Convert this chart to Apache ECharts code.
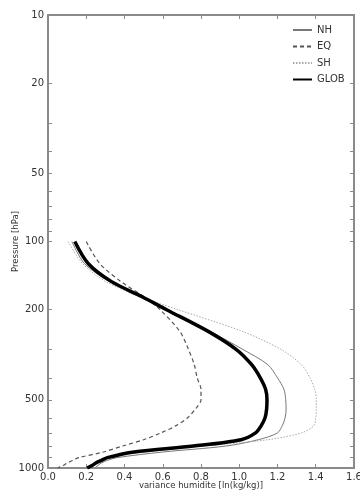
<!DOCTYPE html>
<html><head><meta charset="utf-8">
<script src="https://cdn.jsdelivr.net/npm/echarts@6/dist/echarts.min.js"></script>
<style>html,body{margin:0;padding:0;background:#fff}#c{width:360px;height:491px}</style>
</head><body><div id="c"></div>
<script>
const pressure = [100,125,150,175,200,250,300,350,400,450,500,550,600,650,700,750,800,850,900,925,950,975,1000];
const nh   = [0.125,0.19,0.32,0.48,0.62,0.85,1.02,1.15,1.20,1.234,1.243,1.245,1.24,1.225,1.20,1.10,0.93,0.60,0.36,0.31,0.28,0.26,0.245];
const eq   = [0.20,0.27,0.38,0.50,0.586,0.69,0.735,0.765,0.78,0.80,0.80,0.77,0.73,0.67,0.59,0.50,0.39,0.29,0.16,0.13,0.10,0.08,0.05];
const sh   = [0.105,0.18,0.30,0.48,0.68,1.02,1.22,1.325,1.37,1.395,1.403,1.403,1.40,1.39,1.325,1.15,0.82,0.50,0.33,0.29,0.27,0.26,0.25];
const glob = [0.14,0.21,0.33,0.49,0.62,0.84,0.985,1.065,1.11,1.138,1.145,1.143,1.135,1.115,1.085,1.01,0.76,0.45,0.31,0.28,0.25,0.23,0.205];
const yLabels = [10,20,50,100,200,500,1000];
const yTicks = [10,20,30,40,50,60,70,80,90,100,200,300,400,500,600,700,800,900,1000];

const pairs = v => v.map((x,i)=>[x, pressure[i]]);
const axisCol = '#8a8a8a';
const txt = '#333';
const font = 'DejaVu Sans';

const chart = echarts.init(document.getElementById('c'), null, {renderer:'canvas'});
const baseY = {
  type:'log', logBase:10, min:10, max:1000, inverse:true,
  axisLine:{show:true, onZero:false, lineStyle:{color:axisCol, width:2}},
  axisTick:{show:true, inside:true, length:4, customValues:yTicks, lineStyle:{color:axisCol}},
  splitLine:{show:false}
};
chart.setOption({
  animation:false,
  textStyle:{fontFamily:font},
  grid:{left:48, right:6, top:15, bottom:23, containLabel:false, outerBoundsMode:'none'},
  legend:{
    orient:'vertical', left:287, top:20, itemWidth:19, itemHeight:10, itemGap:6.5,
    itemStyle:{opacity:0},
    textStyle:{fontFamily:font, fontSize:10, color:txt},
    data:['NH','EQ','SH','GLOB']
  },
  xAxis:[{
    type:'value', min:0, max:1.6, interval:0.2,
    name:'variance humidite [ln(kg/kg)]', nameLocation:'middle', nameGap:13, nameMoveOverlap:false,
    nameTextStyle:{fontFamily:font, fontSize:8.5, color:txt},
    axisLine:{onZero:false, lineStyle:{color:axisCol, width:2}},
    axisTick:{inside:true, length:4, lineStyle:{color:axisCol}},
    axisLabel:{fontFamily:font, fontSize:10, color:txt, margin:4, formatter:v=>v.toFixed(1)},
    splitLine:{show:false}
  },{
    type:'value', min:0, max:1.6, interval:0.2, position:'top',
    axisLine:{onZero:false, lineStyle:{color:axisCol, width:2}},
    axisTick:{inside:true, length:4, lineStyle:{color:axisCol}},
    axisLabel:{show:false}, splitLine:{show:false}
  }],
  yAxis:[Object.assign({}, baseY, {
    position:'left',
    name:'Pressure [hPa]', nameLocation:'middle', nameGap:28, nameRotate:90, nameMoveOverlap:false,
    nameTextStyle:{fontFamily:font, fontSize:8.5, color:txt},
    axisLabel:{fontFamily:font, fontSize:10, color:txt, margin:4, customValues:yLabels, formatter:v=>String(Math.round(v))}
  }), Object.assign({}, baseY, {
    position:'right', axisLabel:{show:false}
  })],
  series:[
    {name:'NH', type:'line', data:pairs(nh), smooth:0.3, symbol:'none', lineStyle:{color:'#777', width:1}, itemStyle:{color:'#777'}},
    {name:'EQ', type:'line', data:pairs(eq), smooth:0.3, symbol:'none', lineStyle:{color:'#555', width:1.2, type:[4,3]}, itemStyle:{color:'#555'}},
    {name:'SH', type:'line', data:pairs(sh), smooth:0.3, symbol:'none', lineStyle:{color:'#aaa', width:1, type:[1.5,1.5]}, itemStyle:{color:'#aaa'}},
    {name:'GLOB', type:'line', data:pairs(glob), smooth:0.3, symbol:'none', lineStyle:{color:'#000', width:3.5}, itemStyle:{color:'#000'}}
  ]
});
</script></body></html>
